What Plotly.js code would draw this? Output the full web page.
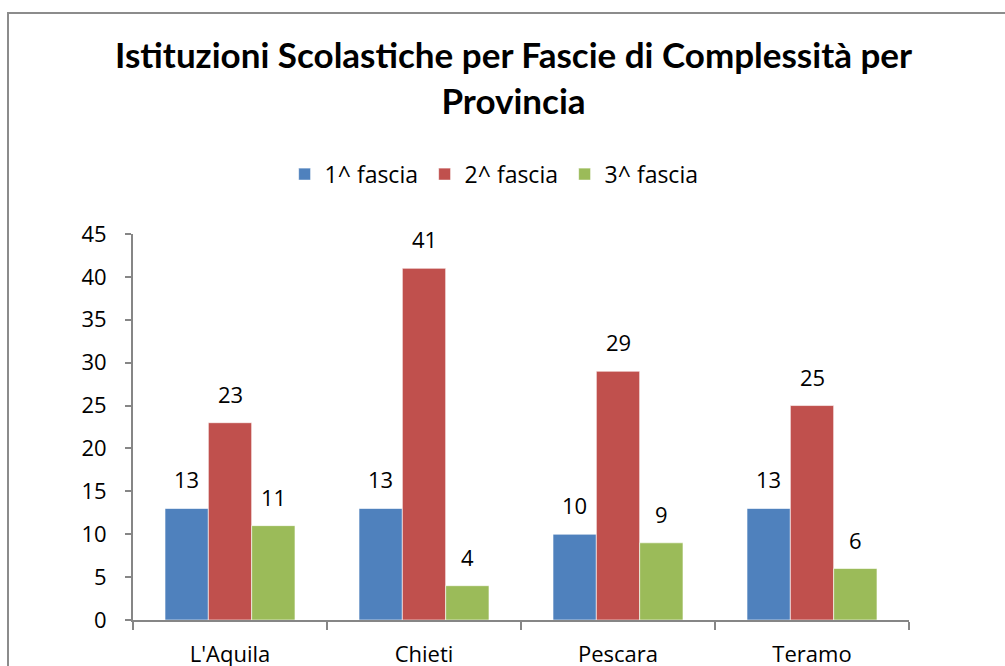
<!DOCTYPE html>
<html>
<head>
<meta charset="utf-8">
<script src="https://cdn.plot.ly/plotly-3.0.1.min.js"></script>
<style>
  html, body { margin: 0; padding: 0; background: #fff; overflow: hidden; }
  #chart { width: 1005px; height: 666px; }
</style>
</head>
<body>
<div id="chart"></div>
<script>
const provinces = ["L'Aquila", "Chieti", "Pescara", "Teramo"];
const seriesNames = ["1^ fascia", "2^ fascia", "3^ fascia"];
const fascia1 = [13, 13, 10, 13];
const fascia2 = [23, 41, 29, 25];
const fascia3 = [11, 4, 9, 6];
const colors = ["#4F81BD", "#C0504D", "#9BBB59"];

const FONT = "'Open Sans', sans-serif";
const TITLE_FONT = "Lato, 'Open Sans', sans-serif";
const allSeries = [fascia1, fascia2, fascia3];

const traces = allSeries.map((vals, i) => ({
  type: 'bar',
  name: seriesNames[i],
  x: provinces,
  y: vals,
  marker: { color: colors[i], line: { width: 1, color: 'rgba(255,255,255,0.6)' } },
  hoverinfo: 'x+y+name'
}));

const annotations = [];
allSeries.forEach((vals, i) => {
  vals.forEach((v, j) => {
    annotations.push({
      x: provinces[j], y: v, xref: 'x', yref: 'y',
      text: String(v), showarrow: false,
      xshift: (i - 1) * 43.5, yanchor: 'bottom', yshift: 12,
      font: { family: FONT, size: 22, color: '#000' }
    });
  });
});

// chart-area frame (page pixels converted to paper fractions)
const L = 133, R = 96, T = 234, B = 46, W = 1005, H = 666;
const pw = W - L - R, ph = H - T - B;
const fx = (px) => (px - L) / pw;
const fy = (py) => (H - B - py) / ph;
const frameColor = '#8c8c8c';
const shapes = [
  { type: 'line', xref: 'paper', yref: 'paper', x0: fx(8), x1: fx(8), y0: fy(700), y1: fy(13),
    line: { color: frameColor, width: 2 } },
  { type: 'line', xref: 'paper', yref: 'paper', x0: fx(7), x1: fx(1100), y0: fy(13), y1: fy(13),
    line: { color: frameColor, width: 2 } }
];

const layout = {
  width: W, height: H,
  margin: { l: L, r: R, t: T, b: B },
  paper_bgcolor: '#fff', plot_bgcolor: '#fff',
  font: { family: FONT, size: 22, color: '#000' },
  title: {
    text: '<b>Istituzioni Scolastiche per Fascie di Complessità per<br>Provincia</b>',
    font: { family: TITLE_FONT, size: 35, color: '#000' },
    xref: 'container', x: 0.511, xanchor: 'center',
    yref: 'container', y: 1 - 68 / 666, yanchor: 'top'
  },
  barmode: 'group',
  bargap: 0.33,
  bargroupgap: 0,
  showlegend: true,
  legend: {
    orientation: 'h', xref: 'paper', x: 0.466, xanchor: 'center',
    y: 1.155, yanchor: 'middle',
    font: { family: FONT, size: 23, color: '#000' },
    itemwidth: 30, entrywidth: 95, traceorder: 'normal'
  },
  xaxis: {
    type: 'category',
    showline: true, linecolor: '#868686', linewidth: 2,
    ticks: 'outside', tickson: 'boundaries', ticklen: 8, tickcolor: '#868686', tickwidth: 2,
    showgrid: false, zeroline: false,
    tickfont: { family: FONT, size: 22, color: '#000' },
    ticklabelstandoff: 14
  },
  yaxis: {
    range: [0, 45], dtick: 5, tick0: 0,
    showline: true, linecolor: '#868686', linewidth: 2,
    ticks: 'outside', ticklen: 6, tickcolor: '#868686', tickwidth: 2,
    showgrid: false, zeroline: false,
    tickfont: { family: FONT, size: 22, color: '#000' },
    ticklabelstandoff: 14
  },
  shapes: shapes,
  annotations: annotations
};

Plotly.newPlot('chart', traces, layout, { displayModeBar: false });
</script>
</body>
</html>
